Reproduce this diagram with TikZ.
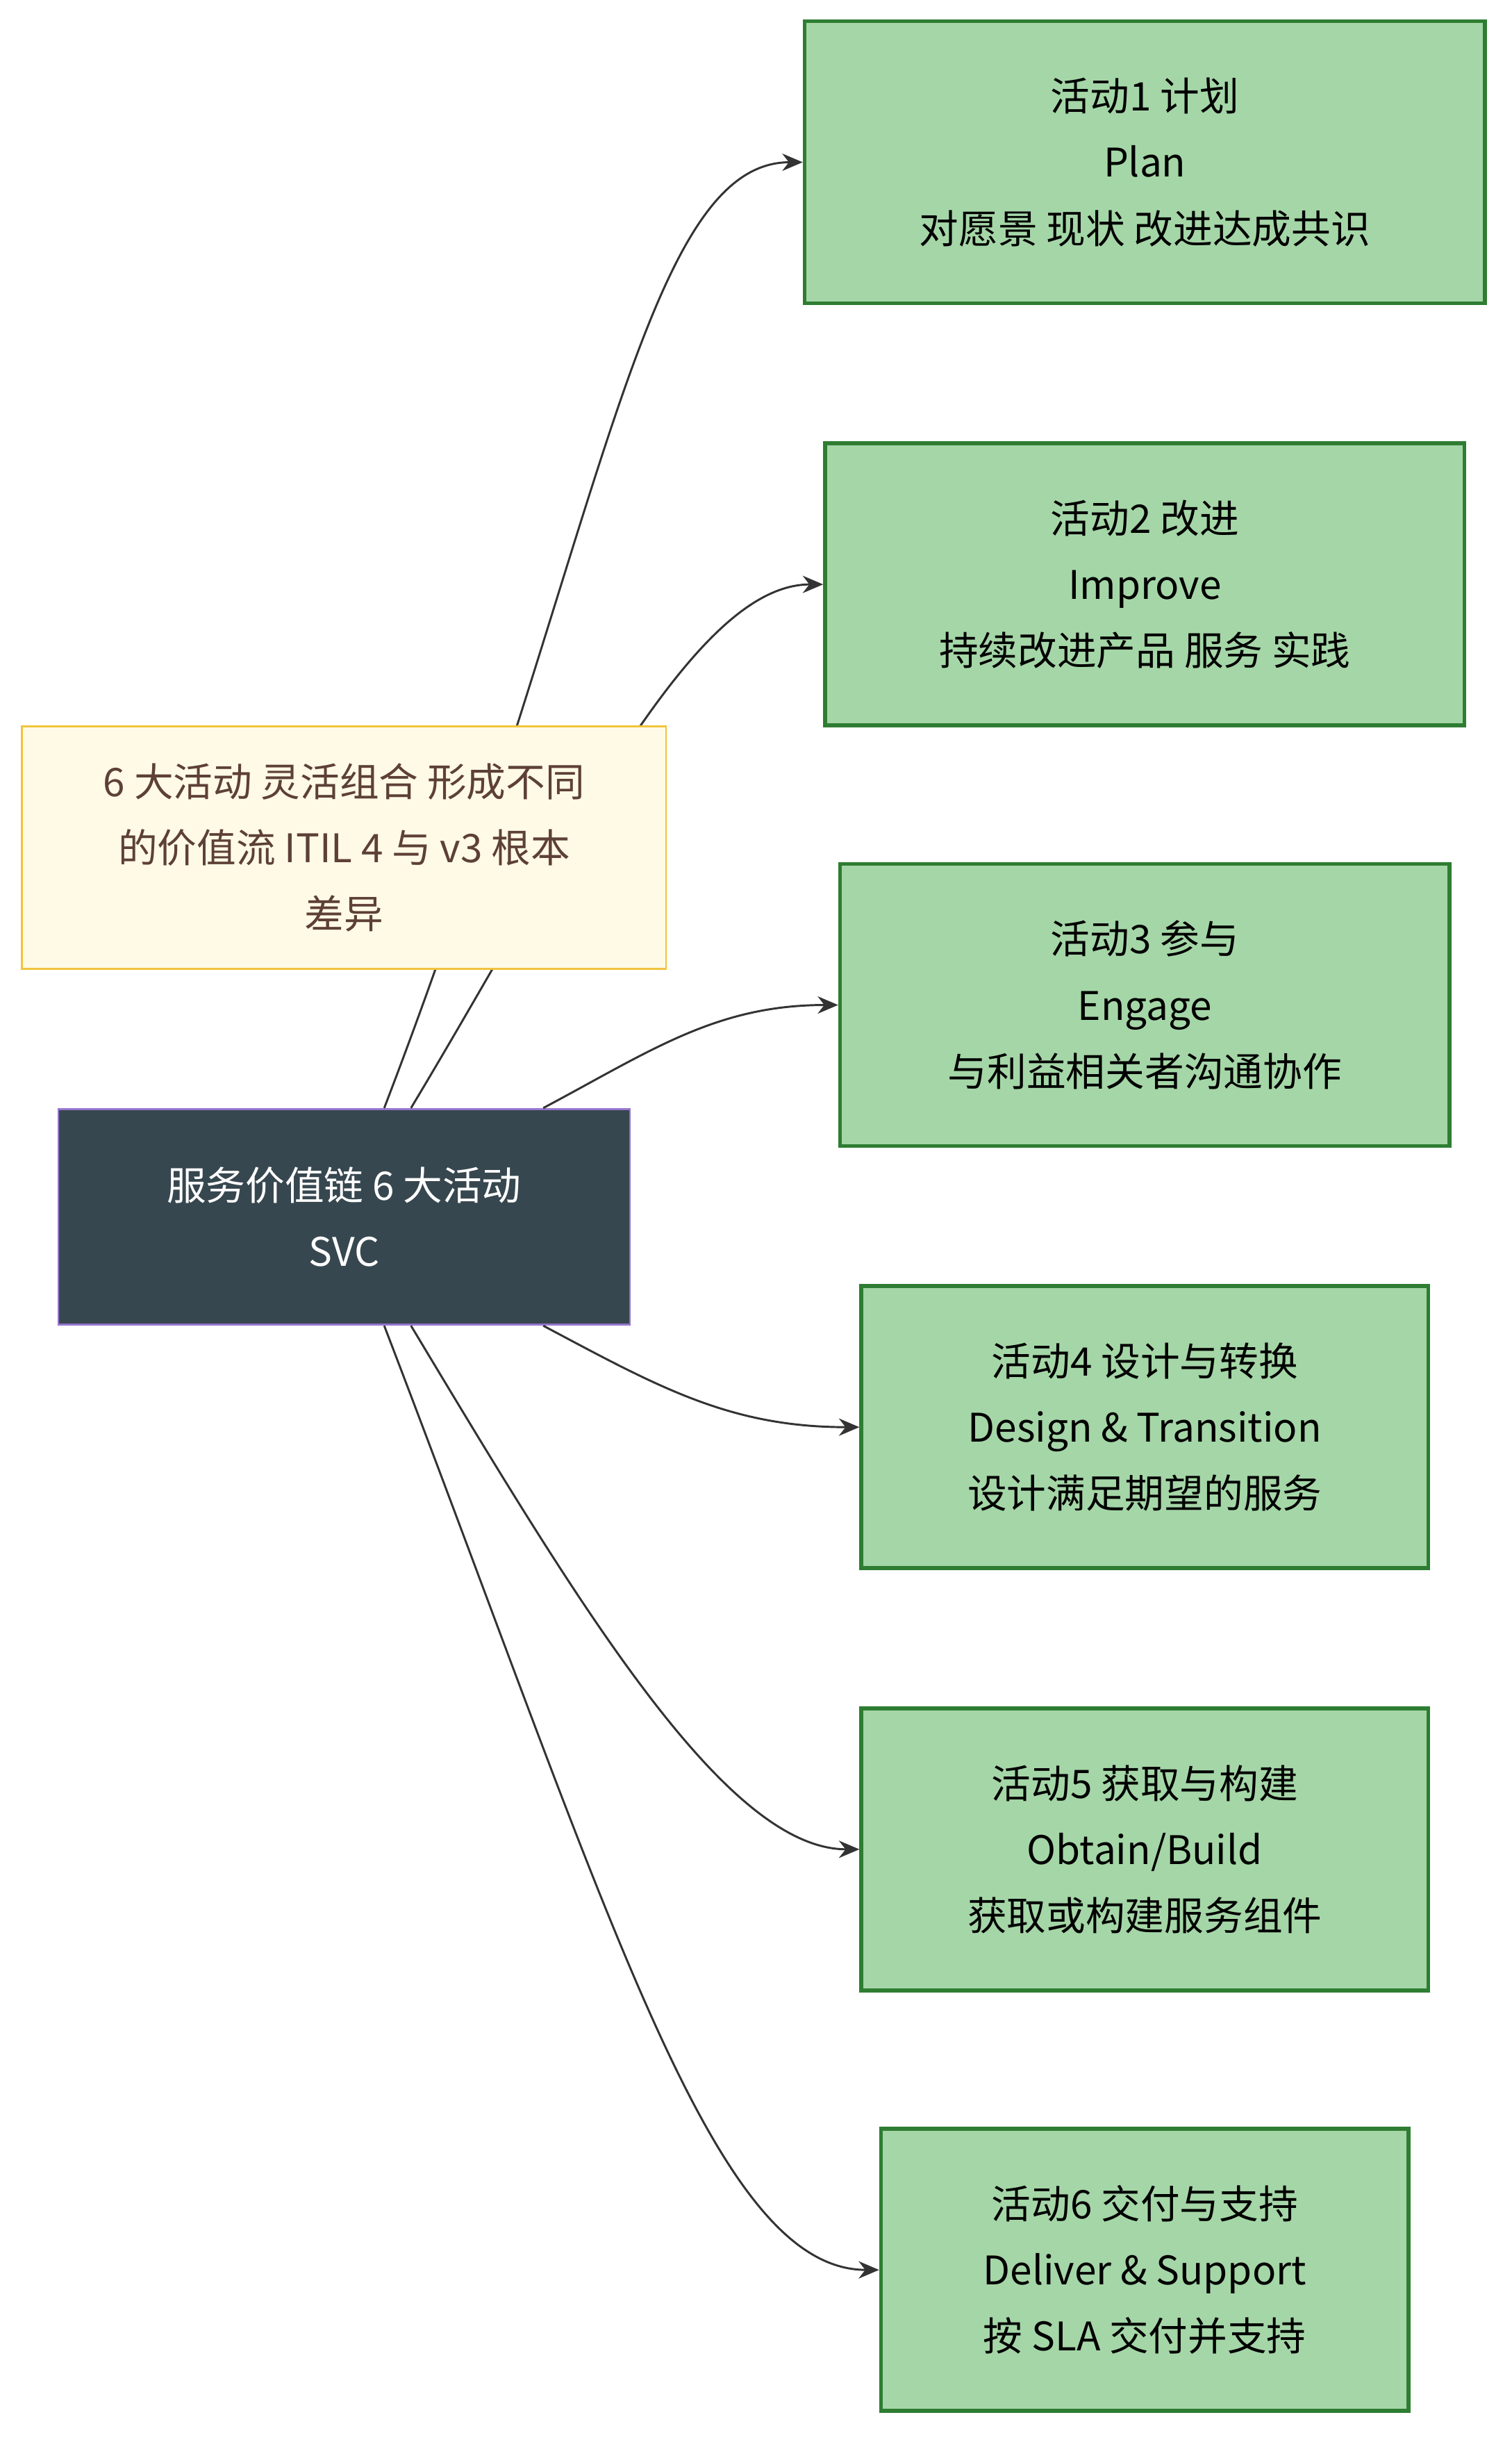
\documentclass[tikz,border=0pt]{standalone}
\usepackage{fontspec}
\setmainfont{Noto Sans CJK SC}
\usepackage{xcolor}
\definecolor{Act-fill}{RGB}{165, 214, 167}
\definecolor{Act-line}{RGB}{46, 125, 50}
\definecolor{Svc-fill}{RGB}{55, 71, 79}
\definecolor{Svc-line}{RGB}{149, 117, 205}
\definecolor{Note-fill}{RGB}{255, 250, 230}
\definecolor{Note-line}{RGB}{240, 196, 60}
\definecolor{Note-text}{RGB}{93, 64, 55}
\definecolor{Edge}{RGB}{51, 51, 51}
\usetikzlibrary{arrows.meta,positioning,calc}

\begin{document}
\begin{tikzpicture} [ % styles
    x=1pt, y=-1pt, font=\fontsize{25}{42}\selectfont,
    act/.style = {shape = rectangle, align = center, fill = Act-fill, draw = Act-line, line width = 2.5pt, minimum height = 179pt},
    svc/.style = {shape = rectangle, align = center, fill = Svc-fill, draw = Svc-line, line width = 1.2pt, text = white, minimum width = 363pt, minimum height = 137pt},
    note/.style = {shape = rectangle, align = center, fill = Note-fill, draw = Note-line, line width = 1.2pt, text = Note-text, minimum width = 409pt, minimum height = 154pt},
    link/.style = {draw = Edge, line width = 1.3pt, -{Stealth[length=13pt,width=11pt]}}
]

\useasboundingbox (0,0) rectangle (960,1549);

% 中心
\node [svc] (svc) at (218.5,772.5){服务价值链 6 大活动\\SVC};

% 右边活动
\node [act, minimum width = 432pt] (plan) at (727,103){活动1 计划\\Plan\\对愿景 现状 改进达成共识};
\node [act, minimum width = 406pt] (improve) at (727,371){活动2 改进\\Improve\\持续改进产品 服务 实践};
\node [act, minimum width = 387pt] (engage) at (727,638){活动3 参与\\Engage\\与利益相关者沟通协作};
\node [act, minimum width = 360pt] (design) at (727,906){活动4 设计与转换\\Design \& Transition\\设计满足期望的服务};
\node [act, minimum width = 360pt] (build) at (727,1174){活动5 获取与构建\\Obtain/Build\\获取或构建服务组件};
\node [act, minimum width = 335pt] (deliver) at (727,1441){活动6 交付与支持\\Deliver \& Support\\按 SLA 交付并支持};

% 连线
\draw [link] (svc.north -| 244,0) to[out=69,in=180,out looseness=1.5,in looseness=0.4] (plan.west);
\draw [link] (svc.north -| 261,0) to[out=59,in=180,out looseness=1.2,in looseness=0.5] (improve.west);
\draw [link] (svc.north -| 345,0) to[out=28,in=180] (engage.west);
\draw [link] (svc.south -| 345,0) to[out=-28,in=180] (design.west);
\draw [link] (svc.south -| 261,0) to[out=-59,in=180,out looseness=1.2,in looseness=0.5] (build.west);
\draw [link] (svc.south -| 244,0) to[out=-69,in=180,out looseness=1.5,in looseness=0.4] (deliver.west);

% 注释
\node [note] (remark) at (218.5,538){6 大活动 灵活组合 形成不同\\的价值流 ITIL 4 与 v3 根本\\差异};

\end{tikzpicture}
\end{document}
